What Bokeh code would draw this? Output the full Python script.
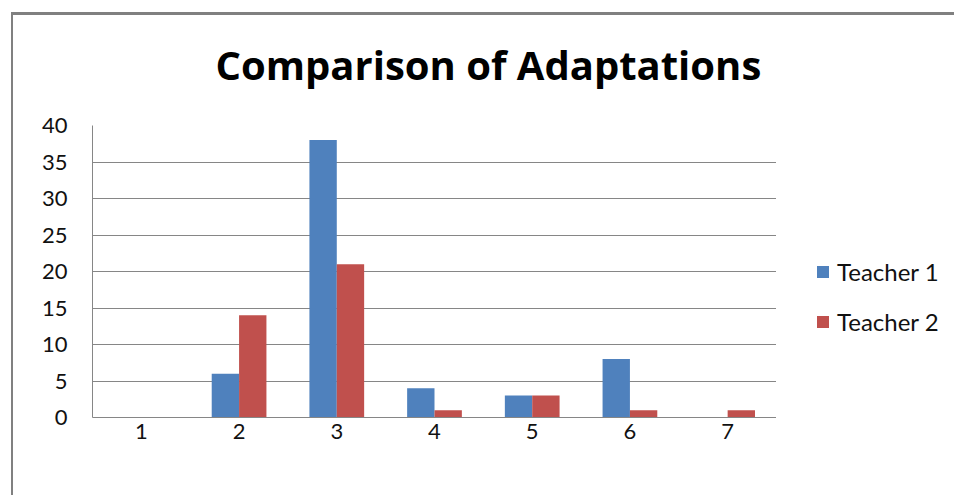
from bokeh.plotting import figure
from bokeh.layouts import row
from bokeh.models import ColumnDataSource, FactorRange, Legend, LegendItem, Title, Range1d, FixedTicker
from bokeh.transform import dodge
from bokeh.embed import file_html
from bokeh.resources import INLINE

categories = ["1", "2", "3", "4", "5", "6", "7"]
teacher1 = [0, 6, 38, 4, 3, 8, 0]
teacher2 = [0, 14, 21, 1, 3, 1, 1]
series_names = ["Teacher 1", "Teacher 2"]
series_colors = ["#4F81BD", "#C0504D"]
title_text = "Comparison of Adaptations"
y_ticks = [0, 5, 10, 15, 20, 25, 30, 35, 40]

src = ColumnDataSource(dict(cat=categories, t1=teacher1, t2=teacher2))

H = 480
PW = 776 - 13
LW = 954 - 776
p = figure(x_range=FactorRange(*categories, range_padding=0), y_range=Range1d(0, 40),
           width=PW, height=H, output_backend="svg", toolbar_location=None,
           min_border_left=79, min_border_right=0, min_border_top=110,
           min_border_bottom=H - (417 - 15), title=None)

p.vbar(x=dodge("cat", -0.14, range=p.x_range), top="t1", width=0.28, source=src,
       fill_color=series_colors[0], line_color=None)
p.vbar(x=dodge("cat", 0.14, range=p.x_range), top="t2", width=0.28, source=src,
       fill_color=series_colors[1], line_color=None)

p.outline_line_color = None
p.xgrid.grid_line_color = None
p.ygrid.grid_line_color = "#868686"
p.ygrid.ticker = FixedTicker(ticks=y_ticks)
p.yaxis.ticker = FixedTicker(ticks=y_ticks)
for ax in (p.xaxis, p.yaxis):
    ax.axis_line_color = "#868686"
    ax.major_tick_line_color = None
    ax.minor_tick_line_color = None
    ax.major_label_text_font = "Lato"
    ax.major_label_text_font_size = "22px"
    ax.major_label_text_color = "#111111"
p.yaxis.major_label_standoff = 19
p.xaxis.major_label_standoff = 0

# spacer (closest to the frame), then the real title
p.add_layout(Title(text=" ", text_font_size="1px", standoff=11), "above")
p.add_layout(Title(text=title_text, align="left", offset=123, standoff=39,
                   text_font="Open Sans", text_font_style="bold", text_font_size="40px",
                   text_color="#000000"), "above")

# legend panel
q = figure(x_range=Range1d(0, 1), y_range=Range1d(0, 1), width=LW, height=H,
           output_backend="svg", toolbar_location=None, x_axis_location=None,
           y_axis_location=None, min_border=0, title=None)
q.outline_line_color = None
q.xgrid.visible = False
q.ygrid.visible = False
d1 = q.vbar(x=[0.5], top=[0.0], width=0.0, fill_color=series_colors[0], line_color=None)
d2 = q.vbar(x=[0.5], top=[0.0], width=0.0, fill_color=series_colors[1], line_color=None)
legend = Legend(items=[LegendItem(label=series_names[0], renderers=[d1]),
                       LegendItem(label=series_names[1], renderers=[d2])],
                location=(39, 81), border_line_color=None, background_fill_alpha=0,
                padding=0, margin=0, spacing=21, glyph_width=15, glyph_height=15,
                label_standoff=7, label_text_font="Lato", label_text_font_size="24px",
                label_text_color="#111111")
q.add_layout(legend)

layout = row(p, q, margin=(12, 0, 0, 11),
             styles={"border-top": "3px solid #808080", "border-left": "2px solid #808080"})

open("out.html", "w").write(file_html(layout, INLINE))
